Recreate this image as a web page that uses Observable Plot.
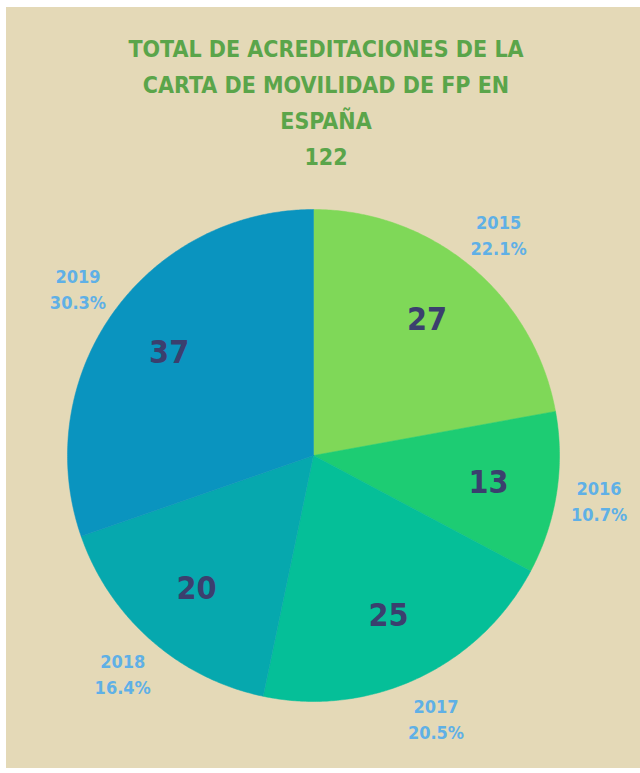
<!DOCTYPE html>
<html>
<head>
<meta charset="utf-8">
<script src="https://cdn.jsdelivr.net/npm/d3@7"></script>
<script src="https://cdn.jsdelivr.net/npm/@observablehq/plot@0.6"></script>
<style>
  html, body { margin: 0; padding: 0; background: #ffffff; width: 640px; height: 773px; overflow: hidden; }
  #panel { position: absolute; left: 6px; top: 7px; width: 634px; height: 761px; background: #e4d9b7; }
  #title { position: absolute; left: 0; top: 24px; width: 640px; text-align: center;
    font-family: "Liberation Sans Narrow", "DejaVu Sans Condensed", "Noto Sans", sans-serif;
    font-stretch: condensed; font-weight: bold; font-size: 23px; line-height: 36px; color: #5aa54a; }
  #chart { position: absolute; left: 0; top: 0; }
</style>
</head>
<body>
<div id="panel">
  <div id="chart"></div>
  <div id="title"></div>
</div>
<script>
const titleLines = ["TOTAL DE ACREDITACIONES DE LA", "CARTA DE MOVILIDAD DE FP EN", "ESPAÑA", "122"];
const years = ["2015", "2016", "2017", "2018", "2019"];
const values = [27, 13, 25, 20, 37];
const colors = ["#7fd858", "#1dcc73", "#05bf98", "#06a8ae", "#0a94bf"];

document.getElementById("title").innerHTML = titleLines.map(t => `<div>${t}</div>`).join("");

const W = 634, H = 761, cx = 307, cy = 448, R = 246;
const total = d3.sum(values);
const data = years.map((y, i) => ({year: y, value: values[i], color: colors[i]}));
const arcs = d3.pie().value(d => d.value).sort(null)(data);

const polyPts = [];
arcs.forEach(a => {
  polyPts.push({year: a.data.year, x: 0, y: 0});
  const n = Math.max(2, Math.ceil((a.endAngle - a.startAngle) / (Math.PI / 360)));
  for (let k = 0; k <= n; k++) {
    const t = a.startAngle + (a.endAngle - a.startAngle) * k / n;
    polyPts.push({year: a.data.year, x: R * Math.sin(t), y: -R * Math.cos(t)});
  }
  polyPts.push({year: a.data.year, x: 0, y: 0});
});

const labels = arcs.map(a => {
  const m = (a.startAngle + a.endAngle) / 2;
  return {
    year: a.data.year,
    value: a.data.value,
    pct: (a.data.value / total * 100).toFixed(1) + "%",
    ix: 0.72 * R * Math.sin(m), iy: -0.72 * R * Math.cos(m),
    ox: (R + 43) * Math.sin(m), oy: -(R + 43) * Math.cos(m)
  };
});

const font = "'Liberation Sans Narrow', 'DejaVu Sans Condensed', 'Noto Sans', sans-serif";

const plot = Plot.plot({
  width: W, height: H, margin: 0,
  x: {domain: [-cx, W - cx], range: [0, W], axis: null},
  y: {domain: [-cy, H - cy], range: [0, H], axis: null},
  color: {domain: years, range: colors},
  style: {background: "transparent", overflow: "visible"},
  marks: [
    Plot.line(polyPts, {x: "x", y: "y", z: "year", fill: "year", stroke: "year", strokeWidth: 0.5, curve: "linear"}),
    Plot.text(labels, {x: "ix", y: "iy", text: d => String(d.value), fill: "#3b3f6e",
      fontSize: 32, fontWeight: "bold", fontFamily: font}),
    Plot.text(labels, {x: "ox", y: "oy", text: d => d.year + "\n" + d.pct, fill: "#5fb0e6",
      fontSize: 18, fontWeight: "bold", fontFamily: font, lineHeight: 1.45})
  ]
});
document.getElementById("chart").appendChild(plot);
</script>
</body>
</html>
